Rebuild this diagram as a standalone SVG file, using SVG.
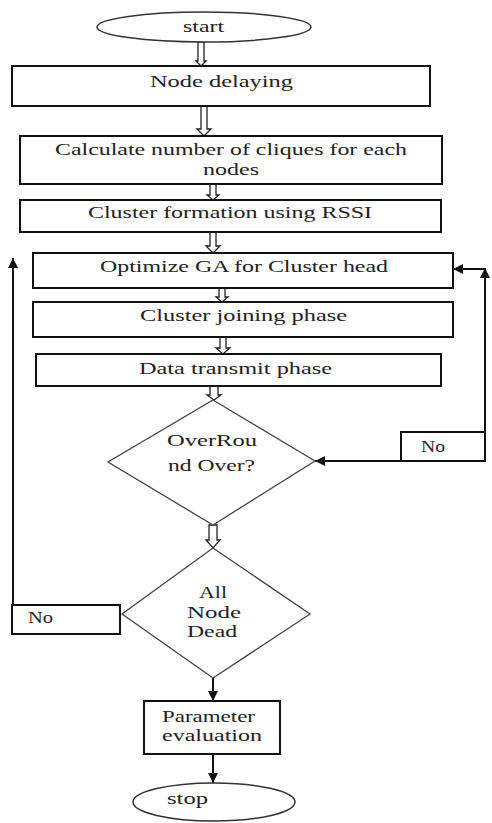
<svg xmlns="http://www.w3.org/2000/svg" width="492" height="823" viewBox="0 0 492 823">
<style>
.box{fill:#fff;stroke:#111;stroke-width:2}
.dia{fill:#fff;stroke:#444;stroke-width:1.3}
.term{fill:#fff;stroke:#333;stroke-width:1.5}
.hol{fill:#fff;stroke:#222;stroke-width:1.3}
.ln{fill:none;stroke:#111;stroke-width:2}
text{font-family:"Liberation Serif","Times New Roman",serif;font-size:16px;fill:#222}
</style>
<defs>
<marker id="ah" viewBox="0 0 10 10" refX="10" refY="5" markerWidth="10" markerHeight="10" markerUnits="userSpaceOnUse" orient="auto">
<path d="M0,0 L10,5 L0,10 z" fill="#111"/>
</marker>
</defs>
<rect width="492" height="823" fill="#fff"/>
<g id="connectors">
<path class="hol" d="M198,42 V61 H196 L201,66 L206,61 H204 V42 Z"/>
<path class="hol" d="M201,106 V129 H197 L204,136 L211,129 H207 V106 Z"/>
<path class="hol" d="M210,184 V195 H207 L213,200 L219,195 H216 V184 Z"/>
<path class="hol" d="M210,232 V246 H206 L213,253 L220,246 H216 V232 Z"/>
<path class="hol" d="M219,288 V297 H216 L222,302 L228,297 H225 V288 Z"/>
<path class="hol" d="M220,337 V348 H216 L223,354 L230,348 H226 V337 Z"/>
<path class="hol" d="M210,386 V395 H207 L214,400 L221,395 H218 V386 Z"/>
<path class="hol" d="M209,525 V540 H206 L213,548 L220,540 H217 V525 Z"/>
<line class="ln" x1="13" y1="605" x2="13" y2="258" marker-end="url(#ah)"/>
<line class="ln" x1="485" y1="432" x2="485" y2="268" marker-end="url(#ah)"/>
<line class="ln" x1="485" y1="269" x2="453" y2="269" marker-end="url(#ah)"/>
<line class="ln" x1="401" y1="461" x2="315" y2="461" marker-end="url(#ah)"/>
<line class="ln" x1="213" y1="678" x2="213" y2="701" marker-end="url(#ah)"/>
<line class="ln" x1="213" y1="754" x2="213" y2="783" marker-end="url(#ah)"/>
</g>
<g id="start">
<ellipse class="term" cx="204" cy="27" rx="107" ry="15"/>
<text x="183" y="32" textLength="41" lengthAdjust="spacingAndGlyphs" font-size="14">start</text>
</g>
<g id="node-delaying">
<rect class="box" x="12" y="66" width="418" height="40"/>
<text x="150" y="87" textLength="143" lengthAdjust="spacingAndGlyphs">Node delaying</text>
</g>
<g id="calculate">
<rect class="box" x="20" y="136" width="422" height="48"/>
<text x="55" y="155" textLength="352" lengthAdjust="spacingAndGlyphs" font-size="17">Calculate number of cliques for each</text>
<text x="203" y="175" textLength="56" lengthAdjust="spacingAndGlyphs" font-size="17">nodes</text>
</g>
<g id="cluster-formation">
<rect class="box" x="20" y="200" width="421" height="32"/>
<text x="88" y="218" textLength="284" lengthAdjust="spacingAndGlyphs" font-size="17">Cluster formation using RSSI</text>
</g>
<g id="optimize">
<rect class="box" x="33" y="253" width="420" height="35"/>
<text x="100" y="272" textLength="288" lengthAdjust="spacingAndGlyphs" font-size="17">Optimize GA for Cluster head</text>
</g>
<g id="joining">
<rect class="box" x="33" y="302" width="420" height="35"/>
<text x="140" y="321" textLength="207" lengthAdjust="spacingAndGlyphs" font-size="17">Cluster joining phase</text>
</g>
<g id="data-transmit">
<rect class="box" x="36" y="354" width="405" height="32"/>
<text x="139" y="374" textLength="193" lengthAdjust="spacingAndGlyphs" font-size="17">Data transmit phase</text>
</g>
<g id="round-over">
<polygon class="dia" points="213,400 315,461 213,525 108,462"/>
<text x="167" y="446" textLength="90" lengthAdjust="spacingAndGlyphs">OverRou</text>
<text x="168" y="471" textLength="87" lengthAdjust="spacingAndGlyphs">nd Over?</text>
</g>
<g id="no-right">
<rect class="box" x="401" y="432" width="84" height="29"/>
<text x="421" y="452" textLength="24" lengthAdjust="spacingAndGlyphs" font-size="14">No</text>
</g>
<g id="all-dead">
<polygon class="dia" points="213,548 310,614 213,678 122,614"/>
<text x="199" y="598" textLength="28" lengthAdjust="spacingAndGlyphs">All</text>
<text x="187" y="618" textLength="54" lengthAdjust="spacingAndGlyphs">Node</text>
<text x="187" y="637" textLength="50" lengthAdjust="spacingAndGlyphs">Dead</text>
</g>
<g id="no-left">
<rect class="box" x="12" y="605" width="108" height="29"/>
<text x="28" y="623" textLength="25" lengthAdjust="spacingAndGlyphs" font-size="14">No</text>
</g>
<g id="parameter">
<rect class="box" x="144" y="701" width="136" height="53"/>
<text x="162" y="722" textLength="93" lengthAdjust="spacingAndGlyphs">Parameter</text>
<text x="162" y="741" textLength="100" lengthAdjust="spacingAndGlyphs">evaluation</text>
</g>
<g id="stop">
<ellipse class="term" cx="214" cy="802" rx="81" ry="19"/>
<text x="167" y="804" textLength="41" lengthAdjust="spacingAndGlyphs">stop</text>
</g>
</svg>
